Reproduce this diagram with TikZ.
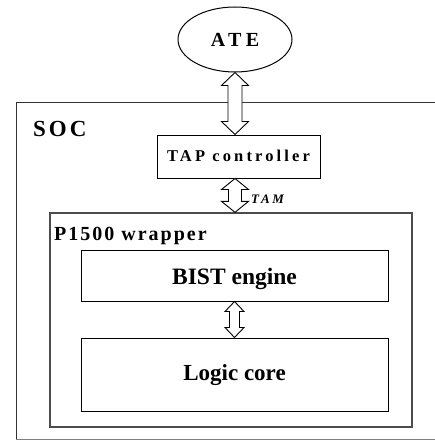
\documentclass[tikz,border=0pt]{standalone}
\usepackage{fontspec}
\setmainfont{Liberation Serif}
\usetikzlibrary{shapes.geometric, calc}

% hollow two-headed block arrow: top tip, bottom tip, head half width, shaft half width, head length
\newcommand\dblarrow[5]{%
  \draw[dblarr] (#1) -- ($(#1)+(#3,#5)$) -- ($(#1)+(#4,#5)$) -- ($(#2)+(#4,-#5)$)
    -- ($(#2)+(#3,-#5)$) -- (#2) -- ($(#2)+(-#3,-#5)$) -- ($(#2)+(-#4,-#5)$)
    -- ($(#1)+(-#4,#5)$) -- ($(#1)+(-#3,#5)$) -- cycle;}

\begin{document}
\begin{tikzpicture}[x=1pt, y=-1pt,
  blk/.style={draw=black, line width=1pt, inner sep=0pt, text depth=0pt},
  dblarr/.style={draw=black, fill=white, line width=0.9pt, line join=miter},
  txt/.style 2 args={font=\bfseries\fontsize{#1}{#1}\selectfont\addfontfeature{LetterSpace=#2}}]
\useasboundingbox (0,0) rectangle (435,441);
% SOC frame, open to the right
\draw[black!80, line width=1pt] (440,103) -| (16,439.5);
\draw[gray, line width=1pt] (16,439.5) -- (440,439.5);
\path
(33,136) node[anchor=base west, inner sep=0pt, txt={23}{13}] (soc) {SOC};
\path
(235,39.5) node[ellipse, blk, minimum width=114, minimum height=65, text height=14.4, txt={20}{22}] (ate) {ATE};
\path
(238.5,156.5) node[blk, minimum width=163, minimum height=43, text height=9, txt={16.5}{19}] (tap) {TAP controller};
\path
(231,320) node[blk, draw=gray!60!black, line width=1.3pt, minimum width=362, minimum height=214] (wrap) {};
\path
(54,240) node[anchor=base west, inner sep=0pt, txt={20}{10}] (wraplbl) {P1500 wrapper};
\path
(234.5,275.5) node[blk, minimum width=307, minimum height=51, text height=17.6, txt={23.5}{0}] (bist) {BIST engine};
\path
(234.5,374.5) node[blk, minimum width=307, minimum height=73, text height=11, txt={23}{0}] (logic) {Logic core};
\path
(251,203) node[anchor=base west, inner sep=0pt, font=\bfseries\itshape\fontsize{13}{13}\selectfont\addfontfeature{LetterSpace=20}] (tam) {TAM};
\dblarrow{ate.south}{ate.south |- tap.north}{13.5}{7}{13}
\dblarrow{ate.south |- tap.south}{ate.south |- wrap.north}{13.5}{6.5}{11}
\dblarrow{bist.south}{logic.north}{9.5}{5}{10}
\end{tikzpicture}
\end{document}
